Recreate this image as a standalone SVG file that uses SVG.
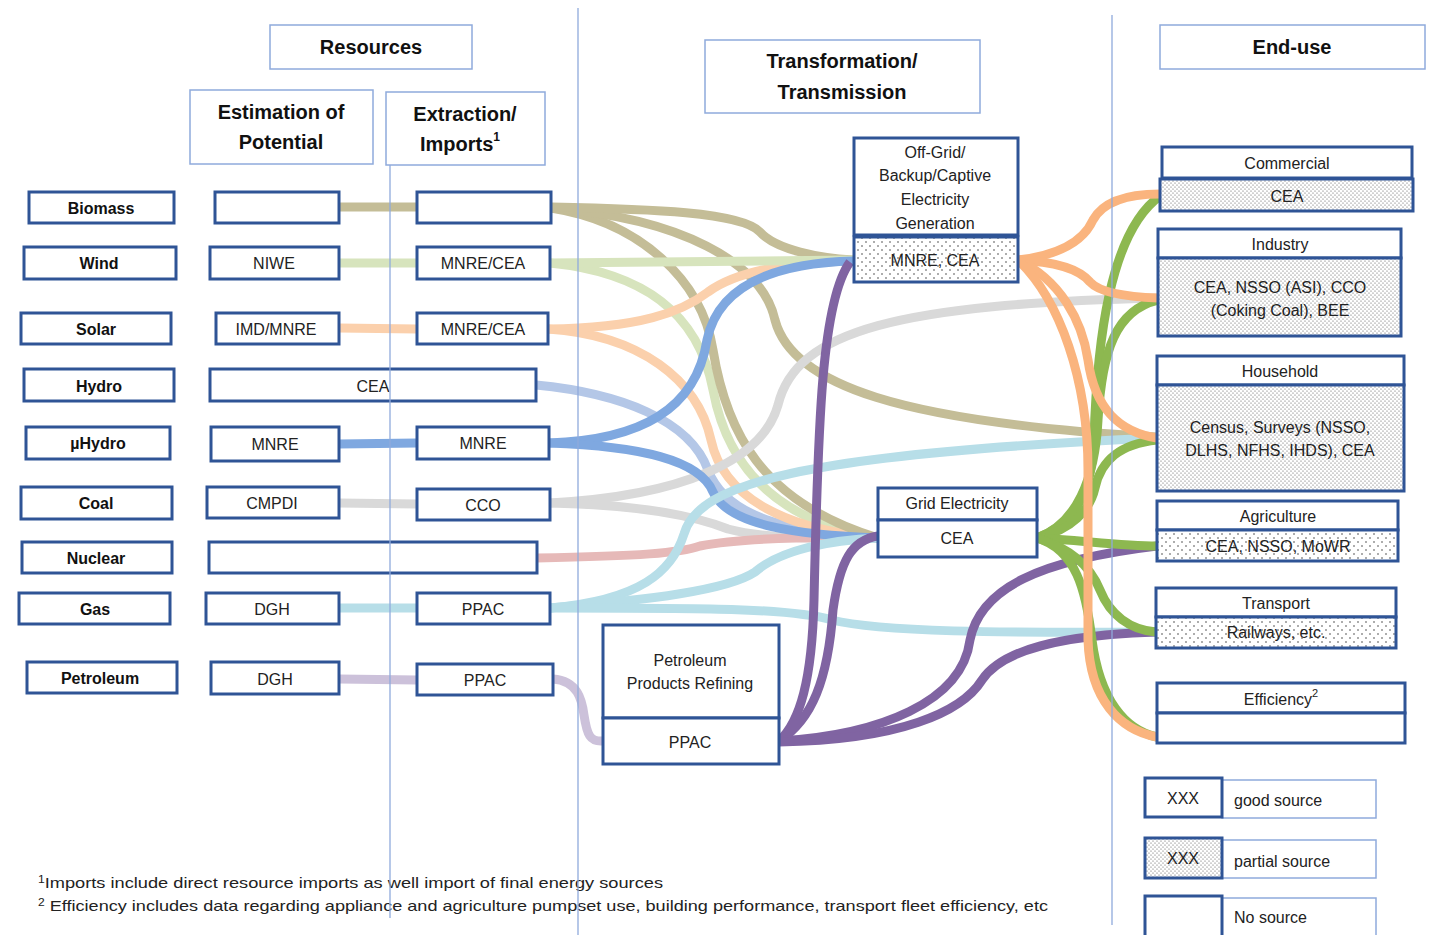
<svg xmlns="http://www.w3.org/2000/svg" width="1430" height="935" viewBox="0 0 1430 935">
<defs>
<pattern id="dd" width="4" height="4" patternUnits="userSpaceOnUse"><rect width="4" height="4" fill="#fff"/><circle cx="1" cy="1" r="0.6" fill="#555"/><circle cx="3" cy="3" r="0.6" fill="#555"/></pattern>
<pattern id="ds" width="8" height="8" patternUnits="userSpaceOnUse"><rect width="8" height="8" fill="#fff"/><circle cx="2" cy="2" r="0.8" fill="#444"/><circle cx="6" cy="6" r="0.8" fill="#444"/></pattern>
<style>
.hb{fill:#fff;stroke:#8FAADC;stroke-width:1.5}
.nb{fill:#fff;stroke:#2F5496;stroke-width:3}
.pd{fill:url(#dd);stroke:#2F5496;stroke-width:3}
.ps{fill:url(#ds);stroke:#2F5496;stroke-width:3}
.lb{fill:#fff;stroke:#8FAADC;stroke-width:1.5}
.h{font-family:'Liberation Sans',Arial,sans-serif;font-weight:bold;font-size:20px;fill:#111;text-anchor:middle;dominant-baseline:central}
.b{font-family:'Liberation Sans',Arial,sans-serif;font-weight:bold;font-size:16px;fill:#111;text-anchor:middle;dominant-baseline:central}
.t{font-family:'Liberation Sans',Arial,sans-serif;font-size:16px;fill:#222;text-anchor:middle;dominant-baseline:central}
.tl{font-family:'Liberation Sans',Arial,sans-serif;font-size:16px;fill:#222;dominant-baseline:central}
.fn{font-family:'Liberation Sans',Arial,sans-serif;font-size:15px;fill:#222}
.c{fill:none;stroke-width:9}
.g{stroke:#8FAADC;stroke-width:1.3}
</style>
</defs>
<rect width="1430" height="935" fill="#fff"/>

<g id="connectors">
<!-- short links col2-col3 -->
<path class="c" stroke="#C4BD97" d="M339,207 L417,207"/>
<path class="c" stroke="#D7E4BD" d="M339,263 L417,263"/>
<path class="c" stroke="#FBD0AC" d="M339,328 L417,329"/>
<path class="c" stroke="#7FA8E0" d="M339,444 L417,443"/>
<path class="c" stroke="#D9D9D9" d="M339,503 L417,504"/>
<path class="c" stroke="#B7DEE8" d="M339,608 L417,608"/>
<path class="c" stroke="#CCC1DA" d="M339,679 L417,680"/>
<!-- petroleum to refinery -->
<path class="c" stroke="#CCC1DA" d="M553,679 C578,681 582,700 584,715 C587,735 590,742 603,741"/>
<!-- hydro -->
<path class="c" stroke="#B4C7E7" d="M536,385 C620,393 690,420 708,470 C728,522 800,532 878,538"/>
<!-- wind -->
<path class="c" stroke="#D7E4BD" d="M550,263 C640,272 698,310 713,390 C728,470 780,522 878,538"/>
<!-- solar -->
<path class="c" stroke="#FBD0AC" d="M548,329 C640,335 698,380 711,440 C724,500 790,530 878,538"/>
<!-- biomass -->
<path class="c" stroke="#C4BD97" d="M551,208 C640,222 702,280 713,350 C726,430 760,502 878,538"/>
<path class="c" stroke="#C4BD97" d="M551,208 C680,218 762,262 775,320 C792,385 900,422 1157,437"/>
<path class="c" stroke="#C4BD97" d="M551,207 C650,209 742,212 760,232 C776,250 820,258 853,260"/>
<!-- coal -->
<path class="c" stroke="#D9D9D9" d="M550,503 C680,496 762,462 778,405 C796,330 900,304 1158,298"/>
<path class="c" stroke="#D9D9D9" d="M550,503 C650,505 700,518 728,529 C770,540 830,538 878,538"/>
<!-- nuclear -->
<path class="c" stroke="#E6B9B8" d="M537,558 C640,556 680,553 700,546 C740,538 820,537 878,538"/>
<!-- solar up -->
<path class="c" stroke="#FBD0AC" d="M548,329 C640,328 682,312 708,292 C738,270 790,262 853,261"/>
<!-- wind straight -->
<path class="c" stroke="#D7E4BD" d="M550,263 L853,260"/>
<!-- micro hydro -->
<path class="c" stroke="#7FA8E0" d="M549,443 C640,440 696,410 707,340 C719,282 780,263 853,261"/>
<path class="c" stroke="#7FA8E0" d="M549,443 C640,446 700,460 713,492 C728,526 800,535 878,538"/>
<!-- gas -->
<path class="c" stroke="#B7DEE8" d="M550,608 C640,600 672,572 684,534 C698,484 800,454 1157,438"/>
<path class="c" stroke="#B7DEE8" d="M550,608 C650,600 728,590 755,572 C780,550 830,540 878,538"/>
<path class="c" stroke="#B7DEE8" d="M550,608 C700,608 790,608 832,620 C880,632 1000,633 1156,632"/>
<!-- purple -->
<path class="c" stroke="#8064A2" d="M779,741 C800,722 812,680 814,600 C818,420 822,300 850,262"/>
<path class="c" stroke="#8064A2" d="M779,741 C812,720 828,680 833,610 C840,560 852,540 878,536"/>
<path class="c" stroke="#8064A2" d="M779,741 C880,735 962,702 970,640 C980,588 1040,560 1157,546"/>
<path class="c" stroke="#8064A2" d="M779,742 C900,740 962,712 982,680 C1002,650 1060,635 1156,632"/>
<!-- green from grid -->
<path class="c" stroke="#8DB850" d="M1037,538 C1076,524 1092,490 1094,440 C1097,340 1110,232 1160,196"/>
<path class="c" stroke="#8DB850" d="M1037,538 C1076,524 1095,480 1098,420 C1102,350 1116,310 1158,300"/>
<path class="c" stroke="#8DB850" d="M1037,538 C1072,530 1090,510 1095,488 C1101,460 1120,444 1157,440"/>
<path class="c" stroke="#8DB850" d="M1037,538 C1080,540 1120,546 1157,546"/>
<path class="c" stroke="#8DB850" d="M1037,538 C1070,548 1090,565 1100,590 C1110,615 1130,630 1156,632"/>
<path class="c" stroke="#8DB850" d="M1037,538 C1076,550 1086,590 1092,640 C1100,700 1125,730 1157,737"/>
<!-- orange from off-grid -->
<path class="c" stroke="#FAB47E" d="M1018,260 C1060,255 1084,240 1093,220 C1104,200 1130,194 1160,194"/>
<path class="c" stroke="#FAB47E" d="M1018,260 C1060,262 1080,270 1090,282 C1100,293 1130,297 1158,298"/>
<path class="c" stroke="#FAB47E" d="M1018,260 C1060,280 1082,320 1088,360 C1095,410 1120,432 1157,438"/>
<path class="c" stroke="#FAB47E" d="M1018,260 C1060,300 1088,380 1088,470 L1088,640 C1090,700 1120,730 1157,737"/>
</g>

<g id="headers">
<g id="h-resources"><rect class="hb" x="270" y="25" width="202" height="44"/><text class="h" x="371" y="47">Resources</text></g>
<g id="h-estimation"><rect class="hb" x="190" y="90" width="183" height="74"/><text class="h" x="281" y="112">Estimation of</text><text class="h" x="281" y="142">Potential</text></g>
<g id="h-extraction"><rect class="hb" x="386" y="92" width="159" height="73"/><text class="h" x="465" y="114">Extraction/</text><text class="h" x="460" y="144">Imports<tspan font-size="12" dy="-7">1</tspan></text></g>
<g id="h-transformation"><rect class="hb" x="705" y="40" width="275" height="73"/><text class="h" x="842" y="61">Transformation/</text><text class="h" x="842" y="92">Transmission</text></g>
<g id="h-enduse"><rect class="hb" x="1160" y="25" width="265" height="44"/><text class="h" x="1292" y="47">End-use</text></g>
</g>

<g id="n-biomass"><rect class="nb" x="29" y="192" width="145" height="31"/><text class="b" x="101" y="208">Biomass</text></g>
<g id="n-wind"><rect class="nb" x="24" y="247" width="152" height="32"/><text class="b" x="99" y="263">Wind</text></g>
<g id="n-solar"><rect class="nb" x="21" y="313" width="150" height="31"/><text class="b" x="96" y="329">Solar</text></g>
<g id="n-hydro"><rect class="nb" x="24" y="369" width="150" height="32"/><text class="b" x="99" y="386">Hydro</text></g>
<g id="n-uhydro"><rect class="nb" x="26" y="427" width="144" height="32"/><text class="b" x="98" y="443">µHydro</text></g>
<g id="n-coal"><rect class="nb" x="21" y="487" width="151" height="32"/><text class="b" x="96" y="503">Coal</text></g>
<g id="n-nuclear"><rect class="nb" x="22" y="542" width="150" height="31"/><text class="b" x="96" y="558">Nuclear</text></g>
<g id="n-gas"><rect class="nb" x="19" y="593" width="151" height="31"/><text class="b" x="95" y="609">Gas</text></g>
<g id="n-petroleum"><rect class="nb" x="27" y="662" width="150" height="31"/><text class="b" x="100" y="678">Petroleum</text></g>

<g id="e-biomass"><rect class="nb" x="215" y="192" width="124" height="31"/></g>
<g id="e-wind"><rect class="nb" x="210" y="247" width="129" height="32"/><text class="t" x="274" y="263">NIWE</text></g>
<g id="e-solar"><rect class="nb" x="216" y="313" width="123" height="31"/><text class="t" x="276" y="329">IMD/MNRE</text></g>
<g id="e-hydro"><rect class="nb" x="210" y="369" width="326" height="32"/><text class="t" x="373" y="386">CEA</text></g>
<g id="e-uhydro"><rect class="nb" x="211" y="427" width="128" height="34"/><text class="t" x="275" y="444">MNRE</text></g>
<g id="e-coal"><rect class="nb" x="207" y="487" width="132" height="31"/><text class="t" x="272" y="503">CMPDI</text></g>
<g id="e-nuclear"><rect class="nb" x="209" y="542" width="328" height="31"/></g>
<g id="e-gas"><rect class="nb" x="206" y="593" width="133" height="31"/><text class="t" x="272" y="609">DGH</text></g>
<g id="e-petroleum"><rect class="nb" x="211" y="662" width="128" height="32"/><text class="t" x="275" y="679">DGH</text></g>

<g id="x-biomass"><rect class="nb" x="417" y="192" width="134" height="31"/></g>
<g id="x-wind"><rect class="nb" x="417" y="247" width="133" height="32"/><text class="t" x="483" y="263">MNRE/CEA</text></g>
<g id="x-solar"><rect class="nb" x="417" y="313" width="131" height="31"/><text class="t" x="483" y="329">MNRE/CEA</text></g>
<g id="x-uhydro"><rect class="nb" x="417" y="427" width="132" height="32"/><text class="t" x="483" y="443">MNRE</text></g>
<g id="x-coal"><rect class="nb" x="417" y="489" width="133" height="31"/><text class="t" x="483" y="505">CCO</text></g>
<g id="x-gas"><rect class="nb" x="417" y="593" width="133" height="31"/><text class="t" x="483" y="609">PPAC</text></g>
<g id="x-petroleum"><rect class="nb" x="417" y="664" width="136" height="31"/><text class="t" x="485" y="680">PPAC</text></g>

<g id="offgrid"><rect class="nb" x="854" y="138" width="164" height="97"/><rect class="ps" x="854" y="237" width="164" height="45"/>
<text class="t" x="935" y="152">Off-Grid/</text><text class="t" x="935" y="175">Backup/Captive</text><text class="t" x="935" y="199">Electricity</text><text class="t" x="935" y="223">Generation</text><text class="t" x="935" y="260">MNRE, CEA</text></g>
<g id="grid"><rect class="nb" x="878" y="488" width="159" height="32"/><rect class="nb" x="878" y="520" width="159" height="37"/><text class="t" x="957" y="503">Grid Electricity</text><text class="t" x="957" y="538">CEA</text></g>
<g id="refining"><rect class="nb" x="603" y="625" width="176" height="93"/><rect class="nb" x="603" y="718" width="176" height="46"/><text class="t" x="690" y="660">Petroleum</text><text class="t" x="690" y="683">Products Refining</text><text class="t" x="690" y="742">PPAC</text></g>

<g id="commercial"><rect class="nb" x="1162" y="147" width="250" height="31"/><rect class="pd" x="1160" y="179" width="253" height="32"/><text class="t" x="1287" y="163">Commercial</text><text class="t" x="1287" y="196">CEA</text></g>
<g id="industry"><rect class="nb" x="1158" y="229" width="243" height="29"/><rect class="pd" x="1158" y="258" width="243" height="78"/><text class="t" x="1280" y="244">Industry</text><text class="t" x="1280" y="287">CEA, NSSO (ASI), CCO</text><text class="t" x="1280" y="310">(Coking Coal), BEE</text></g>
<g id="household"><rect class="nb" x="1157" y="356" width="247" height="29"/><rect class="pd" x="1157" y="385" width="247" height="106"/><text class="t" x="1280" y="371">Household</text><text class="t" x="1280" y="427">Census, Surveys (NSSO,</text><text class="t" x="1280" y="450">DLHS, NFHS, IHDS), CEA</text></g>
<g id="agriculture"><rect class="nb" x="1157" y="501" width="241" height="29"/><rect class="ps" x="1157" y="530" width="241" height="31"/><text class="t" x="1278" y="516">Agriculture</text><text class="t" x="1278" y="546">CEA, NSSO, MoWR</text></g>
<g id="transport"><rect class="nb" x="1156" y="588" width="240" height="29"/><rect class="ps" x="1156" y="617" width="240" height="31"/><text class="t" x="1276" y="603">Transport</text><text class="t" x="1276" y="632">Railways, etc.</text></g>
<g id="efficiency"><rect class="nb" x="1157" y="683" width="248" height="30"/><rect class="nb" x="1157" y="713" width="248" height="30"/><text class="t" x="1281" y="699">Efficiency<tspan font-size="11" dy="-6">2</tspan></text></g>

<g id="legend">
<g id="lg-good"><rect class="lb" x="1222" y="780" width="154" height="38"/><rect class="nb" x="1145" y="778" width="77" height="39"/><text class="t" x="1183" y="798">XXX</text><text class="tl" x="1234" y="800">good source</text></g>
<g id="lg-partial"><rect class="lb" x="1222" y="840" width="154" height="38"/><rect class="pd" x="1145" y="838" width="77" height="40"/><text class="t" x="1183" y="858">XXX</text><text class="tl" x="1234" y="861">partial source</text></g>
<g id="lg-none"><rect class="lb" x="1222" y="898" width="154" height="40"/><rect class="nb" x="1145" y="896" width="77" height="42"/><text class="tl" x="1234" y="917">No source</text></g>
</g>

<g id="footnotes">
<text class="fn" x="38" y="888" textLength="625" lengthAdjust="spacingAndGlyphs"><tspan font-size="10" dy="-5">1</tspan><tspan dy="5">Imports include direct resource imports as well import of final energy sources</tspan></text>
<text class="fn" x="38" y="911" textLength="1010" lengthAdjust="spacingAndGlyphs"><tspan font-size="10" dy="-5">2</tspan><tspan dy="5"> Efficiency includes data regarding appliance and agriculture pumpset use, building performance, transport fleet efficiency, etc</tspan></text>
</g>

<g id="guides">
<line class="g" x1="390" y1="165" x2="390" y2="918"/>
<line class="g" x1="578" y1="8" x2="578" y2="935"/>
<line class="g" x1="1112" y1="15" x2="1112" y2="925"/>
</g>
</svg>
